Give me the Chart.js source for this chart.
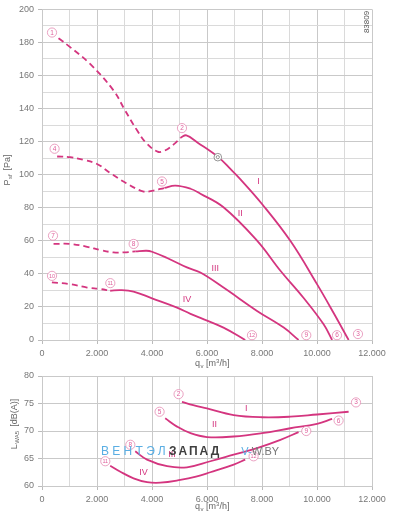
<!DOCTYPE html>
<html>
<head>
<meta charset="utf-8">
<script src="https://cdn.jsdelivr.net/npm/chart.js@4"></script>
<style>
  body { margin: 0; background: #fff; }
  #wrap { position: relative; width: 396px; height: 516px; font-family: "Liberation Sans", Arial, sans-serif; }
  canvas { position: absolute; left: 0; }
  #wm { position: absolute; left: 101px; top: 444px; font-size: 12px; white-space: nowrap; }
  #wm .b { color: #5aaee3; letter-spacing: 3.3px; }
  #wm .g { color: #3f3f3f; letter-spacing: 2px; font-weight: bold; }
  #wm .s { color: #777; margin-left: 20px; font-size: 11px; }
</style>
</head>
<body>
<div id="wrap">
  <canvas id="top" width="396" height="370" style="top:0"></canvas>
  <canvas id="bottom" width="396" height="150" style="top:366px"></canvas>
  <div id="wm"><span class="b">ВЕНТЭЛ</span><span class="g">ЗАПАД</span><span class="s"><span style="color:#5aaee3">V-</span>W.BY</span></div>
</div>
<script>
// ---- top chart: P_sf [Pa] over q_v [m3/h] ----
const qIdash = [600, 1000, 1750, 2600, 3000, 3450, 3800, 4200, 4450, 4800, 5050];
const pIdash = [182.5, 177.5, 167, 151, 139.5, 127, 119, 114, 114.5, 118.5, 122.5];
const qI = [5050, 5250, 5650, 6420, 6850, 7200, 8000, 9030, 10000, 10600, 11150];
const pI = [122.5, 123.8, 119.5, 110.5, 103.5, 97.5, 82.3, 60, 33.8, 16.5, 0];

const qIIdash = [550, 1030, 1500, 2000, 2500, 3050, 3700, 4050, 4450];
const pIIdash = [111, 110.6, 109, 106.5, 100.8, 95, 89.8, 90.4, 92];
const qII = [4450, 4850, 5400, 5760, 6600, 7820, 8670, 9500, 10240, 10550];
const pII = [92, 93.4, 91.5, 88.5, 80.3, 60.1, 41.9, 25.7, 9.5, 0];

const qIIIdash = [420, 1030, 1640, 2120, 2600, 2970, 3400];
const pIIIdash = [58.1, 58.1, 56.4, 54.4, 53, 53, 53.6];
const qIII = [3400, 3800, 4000, 4550, 5270, 5760, 6600, 7820, 8790, 9330];
const pIII = [53.6, 54, 53.4, 49.6, 43.9, 40.8, 31.7, 17.6, 7.5, 0];

const qIVdash = [360, 1030, 1640, 2120, 2480];
const pIVdash = [34.8, 33.8, 31.7, 30.8, 29.8];
const qIV = [2480, 2850, 3330, 4000, 4910, 5400, 5760, 6600, 7390];
const pIV = [29.8, 30.2, 29.3, 25.2, 19.6, 15.8, 13.4, 7.5, 0];

// ---- bottom chart: L_WA5 [dB(A)] over q_v ----
const qLI = [5090, 5500, 6000, 6970, 8000, 9030, 10000, 11150];
const lI = [75.3, 74.7, 74.1, 72.9, 72.5, 72.6, 73.0, 73.5];
const qLII = [4480, 4910, 5400, 6000, 6970, 8000, 9030, 10000, 10550];
const lII = [72.3, 70.8, 69.6, 68.9, 69.0, 69.6, 70.5, 71.3, 72.2];
const qLIII = [3390, 3820, 4550, 5270, 6120, 6970, 7820, 8670, 9330];
const lIII = [66.3, 64.8, 63.6, 63.4, 64.5, 65.7, 66.9, 68.4, 69.8];
const qLIV = [2480, 2850, 3330, 3820, 4300, 5030, 5600, 6120, 6970, 7390];
const lIV = [63.7, 62.6, 61.4, 60.7, 60.6, 61.1, 61.7, 62.5, 63.9, 64.8];

// operating point labels [text, q, value]
const topPoints = [['1', 364, 186], ['2', 5090, 128.2], ['4', 458, 115.7], ['5', 4364, 95.9],
  ['7', 400, 63.1], ['8', 3333, 58.1], ['10', 364, 38.8], ['11', 2484, 34.4],
  ['12', 7636, 2.9], ['9', 9610, 2.9], ['6', 10727, 2.9], ['3', 11490, 3.6]];
const topRoman = [['I', 7876, 96], ['II', 7211, 76.3], ['III', 6300, 43.5], ['IV', 5272, 24.3]];
const botPoints = [['2', 4967, 76.7], ['3', 11418, 75.2], ['5', 4276, 73.5], ['6', 10785, 71.9],
  ['8', 3212, 67.5], ['9', 9610, 70.0], ['11', 2302, 64.5], ['12', 7694, 65.4]];
const botRoman = [['I', 7430, 74.1], ['II', 6276, 71.2], ['III', 4727, 65.7], ['IV', 3694, 62.4]];

const pink = '#d4357f';
const font = '"Liberation Sans", Arial, sans-serif';

function pts(xs, ys) {
    return xs.map((x, i) => ({ x: x, y: ys[i] }));
}

function curve(xs, ys, dashed) {
    return {
        data: pts(xs, ys),
        showLine: true,
        borderColor: pink,
        borderWidth: 1.8,
        borderDash: dashed ? [6, 4] : [],
        pointRadius: 0,
        tension: 0.4,
        fill: false
    };
}

function qLabel(v) {
    if (v % 2000 !== 0) return '';
    return v === 0 ? '0' : (v / 1000) + '.000';
}

function xScale() {
    return {
        type: 'linear', min: 0, max: 12000,
        afterFit: s => { s.height = 30; },
        grid: {
            color: c => c.tick.value % 2000 === 0 ? '#c9c9c9' : '#dadada',
            tickColor: c => c.tick.value % 2000 === 0 ? '#bbb' : 'rgba(0,0,0,0)',
            tickLength: 4
        },
        border: { color: '#c9c9c9' },
        ticks: {
            stepSize: 1000, autoSkip: false, maxRotation: 0, padding: 4,
            color: '#777', font: { family: font, size: 9 },
            callback: qLabel
        }
    };
}

function drawCircled(ctx, x, y, txt) {
    ctx.save();
    ctx.beginPath();
    ctx.arc(x, y, 4.6, 0, Math.PI * 2);
    ctx.fillStyle = '#fff';
    ctx.fill();
    ctx.lineWidth = 0.8;
    ctx.strokeStyle = '#e48ab2';
    ctx.stroke();
    ctx.fillStyle = '#e0609c';
    ctx.font = (txt.length > 1 ? '5.5px ' : '6.5px ') + font;
    ctx.textAlign = 'center';
    ctx.textBaseline = 'middle';
    ctx.fillText(txt, x, y + 0.3);
    ctx.restore();
}

function drawSub(ctx, x, y, main, sub, rest) {
    // text with subscript, drawn left to right starting at x
    ctx.font = '9px ' + font;
    ctx.fillText(main, x, y);
    let w = ctx.measureText(main).width;
    ctx.font = '6px ' + font;
    ctx.fillText(sub, x + w + 0.5, y + 2.5);
    w += ctx.measureText(sub).width + 2;
    ctx.font = '9px ' + font;
    ctx.fillText(rest, x + w, y);
    return w + ctx.measureText(rest).width;
}

function labelsPlugin(points, roman, extra) {
    return {
        id: 'labels',
        afterDatasetsDraw(chart) {
            const ctx = chart.ctx;
            const xs = chart.scales.x, ys = chart.scales.y;
            ctx.save();
            roman.forEach(r => {
                ctx.fillStyle = pink;
                ctx.font = '9px ' + font;
                ctx.textAlign = 'center';
                ctx.textBaseline = 'middle';
                ctx.fillText(r[0], xs.getPixelForValue(r[1]), ys.getPixelForValue(r[2]));
            });
            points.forEach(p => drawCircled(ctx, xs.getPixelForValue(p[1]), ys.getPixelForValue(p[2]), p[0]));
            if (extra) extra(chart, ctx);
            ctx.restore();
        }
    };
}

function qTitle(chart, ctx, y) {
    ctx.fillStyle = '#666';
    ctx.textAlign = 'left';
    ctx.textBaseline = 'middle';
    ctx.font = '9px ' + font;
    const x0 = 195;
    ctx.fillText('q', x0, y);
    ctx.font = '6px ' + font;
    ctx.fillText('v', x0 + 5.5, y + 2.5);
    ctx.font = '9px ' + font;
    ctx.fillText('[m', x0 + 11, y);
    let w = ctx.measureText('[m').width;
    ctx.font = '6px ' + font;
    ctx.fillText('3', x0 + 11 + w, y - 3);
    ctx.font = '9px ' + font;
    ctx.fillText('/h]', x0 + 11 + w + 3.5, y);
}

function yTitle(ctx, cx, cy, main, sub, rest) {
    ctx.save();
    ctx.translate(cx, cy);
    ctx.rotate(-Math.PI / 2);
    ctx.fillStyle = '#666';
    ctx.textAlign = 'left';
    ctx.textBaseline = 'middle';
    ctx.globalAlpha = 0;
    const w = drawSub(ctx, 0, 0, main, sub, rest);
    ctx.globalAlpha = 1;
    drawSub(ctx, -w / 2, 0, main, sub, rest);
    ctx.restore();
}

new Chart(document.getElementById('top'), {
    type: 'scatter',
    data: {
        datasets: [
            curve(qIdash, pIdash, true), curve(qI, pI, false),
            curve(qIIdash, pIIdash, true), curve(qII, pII, false),
            curve(qIIIdash, pIIIdash, true), curve(qIII, pIII, false),
            curve(qIVdash, pIVdash, true), curve(qIV, pIV, false)
        ]
    },
    options: {
        responsive: false, animation: false, devicePixelRatio: 1,
        layout: { padding: { top: 9, right: 24, left: 0, bottom: 0 } },
        plugins: { legend: { display: false }, tooltip: { enabled: false } },
        scales: {
            x: xScale(),
            y: {
                min: 0, max: 200,
                afterFit: s => { s.width = 42; },
                grid: {
                    color: c => c.tick.value % 20 === 0 ? '#c9c9c9' : '#dadada',
                    tickColor: c => c.tick.value % 20 === 0 ? '#bbb' : 'rgba(0,0,0,0)',
                    tickLength: 4
                },
                border: { color: '#c9c9c9' },
                ticks: {
                    stepSize: 10, autoSkip: false, padding: 4,
                    color: '#777', font: { family: font, size: 9 },
                    callback: v => v % 20 === 0 ? String(v) : ''
                }
            }
        }
    },
    plugins: [labelsPlugin(topPoints, topRoman, (chart, ctx) => {
        // grey marker on curve I
        const x = chart.scales.x.getPixelForValue(6393), y = chart.scales.y.getPixelForValue(110.6);
        ctx.beginPath();
        ctx.arc(x, y, 3.8, 0, Math.PI * 2);
        ctx.fillStyle = '#fff';
        ctx.fill();
        ctx.lineWidth = 0.9;
        ctx.strokeStyle = '#888';
        ctx.stroke();
        ctx.beginPath();
        ctx.arc(x, y, 1.6, 0, Math.PI * 2);
        ctx.stroke();
        qTitle(chart, ctx, 364);
        yTitle(ctx, 8, 170, 'P', 'sf', ' [Pa]');
        // drawing number
        ctx.save();
        ctx.translate(367, 22);
        ctx.rotate(-Math.PI / 2);
        ctx.fillStyle = '#555';
        ctx.font = '8px ' + font;
        ctx.textAlign = 'center';
        ctx.textBaseline = 'middle';
        ctx.fillText('83809', 0, 0);
        ctx.restore();
    })]
});

new Chart(document.getElementById('bottom'), {
    type: 'scatter',
    data: {
        datasets: [
            curve(qLI, lI, false), curve(qLII, lII, false),
            curve(qLIII, lIII, false), curve(qLIV, lIV, false)
        ]
    },
    options: {
        responsive: false, animation: false, devicePixelRatio: 1,
        layout: { padding: { top: 10, right: 24, left: 0, bottom: 0 } },
        plugins: { legend: { display: false }, tooltip: { enabled: false } },
        scales: {
            x: xScale(),
            y: {
                min: 60, max: 80,
                afterFit: s => { s.width = 42; },
                grid: { color: '#c9c9c9', tickColor: '#bbb', tickLength: 4 },
                border: { color: '#c9c9c9' },
                ticks: {
                    stepSize: 5, padding: 4,
                    color: '#777', font: { family: font, size: 9 }
                }
            }
        }
    },
    plugins: [labelsPlugin(botPoints, botRoman, (chart, ctx) => {
        qTitle(chart, ctx, 141);
        yTitle(ctx, 15, 58, 'L', 'WA5', ' [dB(A)]');
    })]
});
</script>
</body>
</html>
